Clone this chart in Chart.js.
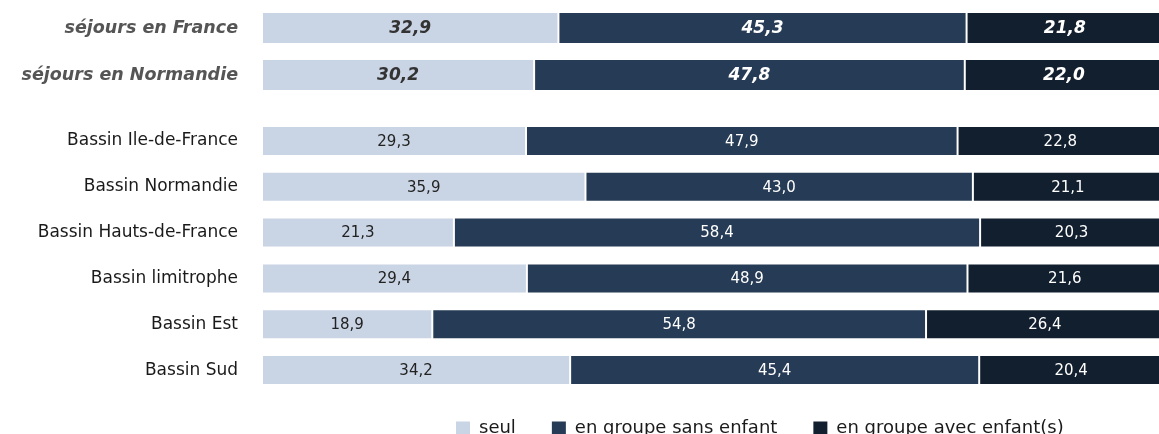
<!DOCTYPE html>
<html>
<head>
<meta charset="utf-8">
<script src="https://cdn.jsdelivr.net/npm/chart.js@4"></script>
<style>
    body { margin: 0; background: #fff; overflow: hidden; }
    #wrap { position: relative; width: 1159px; height: 434px; overflow: hidden; }
    #top-chart { position: absolute; left: 0; top: -6px; }
    #basin-chart { position: absolute; left: 0; top: 100px; }
</style>
</head>
<body>
<div id="wrap">
    <canvas id="top-chart" width="1163" height="115"></canvas>
    <canvas id="basin-chart" width="1163" height="357"></canvas>
</div>
<script>
// Data
const seriesNames = ['seul', 'en groupe sans enfant', 'en groupe avec enfant(s)'];

const topCategories = ['séjours en France', 'séjours en Normandie'];
const topSeul = [32.9, 30.2];
const topSansEnfant = [45.3, 47.8];
const topAvecEnfant = [21.8, 22.0];

const basinCategories = ['Bassin Ile-de-France', 'Bassin Normandie', 'Bassin Hauts-de-France',
    'Bassin limitrophe', 'Bassin Est', 'Bassin Sud'];
const basinSeul = [29.3, 35.9, 21.3, 29.4, 18.9, 34.2];
const basinSansEnfant = [47.9, 43.0, 58.4, 48.9, 54.8, 45.4];
const basinAvecEnfant = [22.8, 21.1, 20.3, 21.6, 26.4, 20.4];

const colors = ['#c9d4e4', '#263b55', '#121f2e'];
const labelFont = '"DejaVu Sans", sans-serif';
const scriptFont = '"DejaVu Sans", sans-serif';

// Write values in the middle of each segment
const valueLabels = {
    id: 'valueLabels',
    afterDatasetsDraw(chart, args, opts) {
        const ctx = chart.ctx;
        chart.data.datasets.forEach((ds, i) => {
            const meta = chart.getDatasetMeta(i);
            meta.data.forEach((bar, j) => {
                const x = (bar.x + bar.base) / 2;
                ctx.save();
                ctx.font = opts.font;
                ctx.fillStyle = i === 0 ? opts.darkText : '#ffffff';
                ctx.textAlign = 'center';
                ctx.textBaseline = 'middle';
                ctx.fillText(ds.data[j].toFixed(1).replace('.', ','), x, bar.y + 1);
                ctx.restore();
            });
        });
    }
};

// Move the legend row: start it under the bars and pull it up a little
const legendPlacement = {
    id: 'legendPlacement',
    afterLayout(chart, args, opts) {
        const legend = chart.legend;
        if (!legend) return;
        legend.left = opts.left;
        legend.top += opts.shiftY;
    }
};

function makeDatasets(values, pct) {
    return values.map((data, i) => ({
        label: seriesNames[i],
        data: data,
        backgroundColor: colors[i],
        borderColor: 'rgba(255, 255, 255, 0.22)',
        borderWidth: 1,
        borderSkipped: false,
        categoryPercentage: 1,
        barPercentage: pct
    }));
}

function baseOptions(tickFont, tickColor) {
    return {
        indexAxis: 'y',
        responsive: false,
        animation: false,
        scales: {
            x: { display: false, stacked: true, min: 0, max: 100 },
            y: {
                stacked: true,
                // tick marks are hidden, tickLength only makes the gap before the bars
                grid: { display: false, drawTicks: true, tickLength: 24 },
                border: { display: false },
                ticks: { font: tickFont, color: tickColor, padding: 0 },
                afterFit(scale) { scale.width = 262; }
            }
        }
    };
}

// Top chart: France / Normandie
const topOptions = baseOptions({ family: scriptFont, size: 17.5, style: 'italic', weight: 'bold' }, '#555555');
topOptions.layout = { padding: 0 };
topOptions.plugins = {
    legend: { display: false },
    tooltip: { enabled: false },
    valueLabels: { font: 'italic bold 17px ' + scriptFont, darkText: '#333333' }
};
new Chart(document.getElementById('top-chart'), {
    type: 'bar',
    data: {
        labels: topCategories,
        datasets: makeDatasets([topSeul, topSansEnfant, topAvecEnfant], 0.68)
    },
    options: topOptions,
    plugins: [valueLabels]
});

// Bottom chart: by basin, with legend
const basinOptions = baseOptions({ family: labelFont, size: 17 }, '#1a1a1a');
basinOptions.layout = { padding: { top: 18, bottom: 0, left: 0, right: 0 } };
basinOptions.plugins = {
    legend: {
        position: 'bottom',
        align: 'start',
        labels: {
            boxWidth: 14,
            boxHeight: 13,
            padding: 36,
            color: '#1a1a1a',
            font: { family: labelFont, size: 18 },
            generateLabels(chart) {
                return Chart.defaults.plugins.legend.labels.generateLabels(chart)
                    .map(item => Object.assign(item, { lineWidth: 0 }));
            }
        }
    },
    legendPlacement: { left: 420, shiftY: -10 },
    tooltip: { enabled: false },
    valueLabels: { font: '15px ' + labelFont, darkText: '#222222' }
};
new Chart(document.getElementById('basin-chart'), {
    type: 'bar',
    data: {
        labels: basinCategories,
        datasets: makeDatasets([basinSeul, basinSansEnfant, basinAvecEnfant], 0.655)
    },
    options: basinOptions,
    plugins: [valueLabels, legendPlacement]
});
</script>
</body>
</html>
